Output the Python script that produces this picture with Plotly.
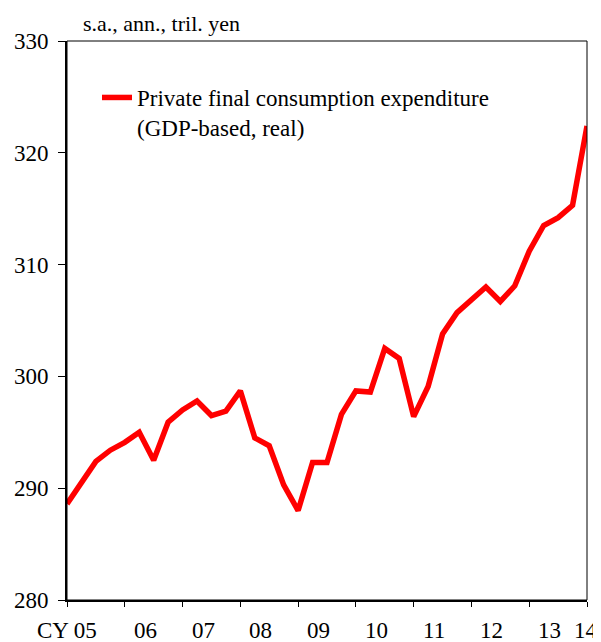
import plotly.graph_objects as go

# Data: quarterly, 2005Q1 .. 2014Q1 (s.a., annualized, trillion yen)
start_year = 2005
consumption = [
    288.6, 290.6, 292.4, 293.4,   # 2005
    294.1, 295.0, 292.5, 295.9,   # 2006
    297.0, 297.8, 296.5, 296.9,   # 2007
    298.7, 294.5, 293.8, 290.3,   # 2008
    288.0, 292.3, 292.3, 296.6,   # 2009
    298.7, 298.6, 302.5, 301.6,   # 2010
    296.4, 299.1, 303.8, 305.7,   # 2011
    306.9, 308.0, 306.7, 308.1,   # 2012
    311.2, 313.5, 314.2, 315.3,   # 2013
    322.4,                        # 2014
]
years = list(range(2005, 2015))
year_labels = ["CY 05", "06", "07", "08", "09", "10", "11", "12", "13", "14"]
series_name = "Private final consumption expenditure<br>(GDP-based, real)"
unit_label = "s.a., ann., tril. yen"

x_vals = [start_year + i / 4 for i in range(len(consumption))]

FONT = "'Liberation Serif', 'Times New Roman', Tinos, 'DejaVu Serif', serif"
FS = 23

# page body has an 8px margin: plot area should land at x 67..587, y 41..600
PAGE_OFF = 8
W, H = 601 - PAGE_OFF, 642 - PAGE_OFF
ML, MR, MT, MB = 67 - PAGE_OFF, 14, 41 - PAGE_OFF, 42
PW = W - ML - MR
PH = H - MT - MB

fig = go.Figure()
fig.add_trace(go.Scatter(
    x=x_vals, y=consumption, mode="lines", name=series_name,
    line=dict(color="#FF0000", width=5.5),
    showlegend=True,
))

for yr, lab in zip(years, year_labels):
    if yr == 2005:
        xpos = yr
    elif yr == 2014:
        xpos = yr - 0.02
    else:
        xpos = yr + 0.355
    fig.add_annotation(
        x=xpos, xref="x", y=0, yref="paper", yanchor="middle", xanchor="center",
        yshift=-30, text=lab, showarrow=False,
        font=dict(family=FONT, size=FS, color="black"),
    )

fig.add_annotation(
    x=(81 - 67) / PW, xref="paper", xanchor="left",
    y=1 + (41 - 23) / PH, yref="paper", yanchor="middle",
    text=unit_label, showarrow=False,
    font=dict(family=FONT, size=22, color="black"),
)

fig.add_shape(type="rect", xref="paper", yref="paper", x0=0, y0=0, x1=1, y1=1,
              line=dict(color="black", width=1), layer="above")

fig.update_layout(
    width=W, height=H,
    margin=dict(l=ML, r=MR, t=MT, b=MB, pad=0, autoexpand=False),
    paper_bgcolor="white", plot_bgcolor="white",
    font=dict(family=FONT, size=FS, color="black"),
    legend=dict(
        x=(97 - 67) / PW, xanchor="left",
        y=1 - (76 - 41) / PH, yanchor="top",
        bgcolor="rgba(0,0,0,0)", borderwidth=0,
        valign="top",
        font=dict(family=FONT, size=FS, color="black"),
    ),
    xaxis=dict(
        range=[2005, 2014], tickvals=years, ticktext=[""] * len(years),
        ticks="outside", ticklen=5, tickwidth=1, tickcolor="black",
        showline=True, linecolor="black", linewidth=2,
        showgrid=False, zeroline=False, fixedrange=True, automargin=False,
    ),
    yaxis=dict(
        range=[280, 330], dtick=10, tick0=280,
        ticks="outside", ticklen=7, tickwidth=1, tickcolor="black",
        showline=True, linecolor="black", linewidth=2,
        showgrid=False, zeroline=False, automargin=False,
        tickfont=dict(family=FONT, size=FS, color="black"),
        ticklabelstandoff=5,
    ),
)

fig.write_html("out.html")
